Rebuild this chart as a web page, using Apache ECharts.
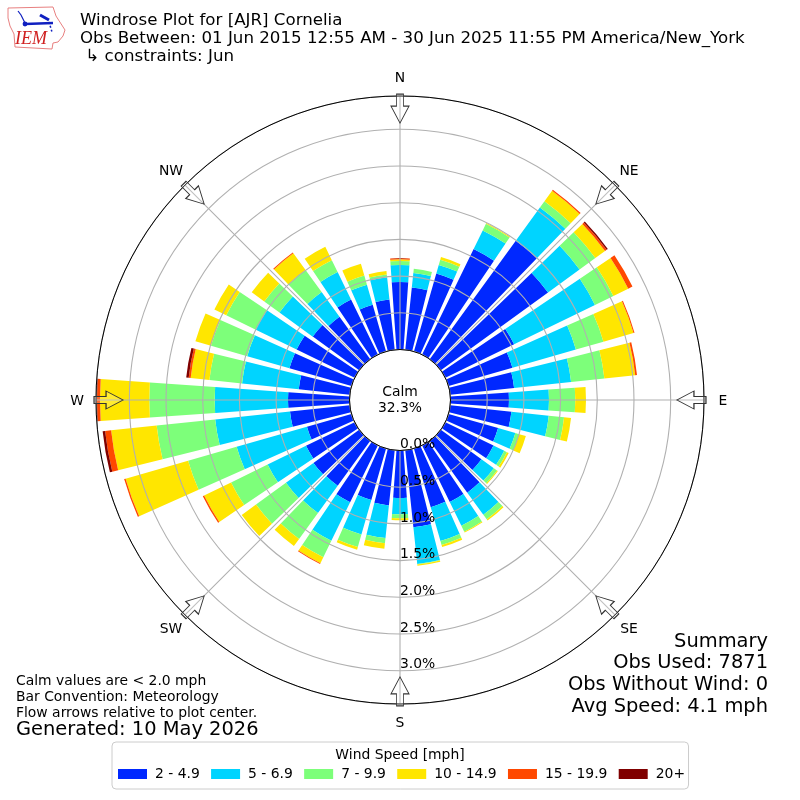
<!DOCTYPE html>
<html>
<head>
<meta charset="utf-8">
<style>html,body{margin:0;padding:0;background:#fff}#c{width:800px;height:800px}</style>
<script src="https://cdn.jsdelivr.net/npm/echarts@6/dist/echarts.min.js"></script>
</head>
<body>
<div id="c"></div>
<script>
const directions = ['0','10','20','30','40','50','60','70','80','90','100','110','120','130','140','150','160','170','180','190','200','210','220','230','240','250','260','270','280','290','300','310','320','330','340','350'];
const speed2to5 = [0.920,0.852,1.106,1.601,1.996,1.805,1.042,0.906,0.875,0.797,0.838,0.702,0.729,0.684,0.872,0.858,0.831,1.056,0.647,0.756,0.729,0.862,0.756,0.770,0.737,0.631,0.819,0.838,0.699,0.879,0.879,0.781,0.715,0.834,0.661,0.688];
const speed5to7 = [0.232,0.200,0.121,0.282,0.559,0.531,1.226,0.899,0.781,0.545,0.512,0.245,0.163,0.208,0.371,0.361,0.481,0.504,0.222,0.447,0.490,0.584,0.458,0.463,0.582,0.997,1.025,0.999,0.777,0.598,0.619,0.561,0.414,0.417,0.286,0.304];
const speed7to10 = [0.054,0.059,0.074,0.099,0.106,0.266,0.279,0.391,0.456,0.358,0.210,0.054,0.041,0.054,0.079,0.089,0.054,0.004,0.054,0.071,0.177,0.249,0.437,0.504,0.554,0.688,0.802,0.891,0.447,0.514,0.448,0.256,0.372,0.180,0.129,0.041];
const speed10to15 = [0.023,0,0.037,0.014,0.176,0.163,0.225,0.426,0.422,0.146,0.095,0.095,0.027,0.014,0.020,0.014,0.030,0.018,0.027,0.076,0.037,0.090,0.120,0.241,0.409,0.886,0.624,0.672,0.257,0.221,0.180,0.211,0.283,0.203,0.168,0.046];
const speed15to20 = [0.014,0,0,0,0.018,0.027,0.064,0.014,0.025,0,0,0,0,0,0,0,0,0,0,0,0,0.012,0,0,0.019,0.020,0.082,0.041,0.027,0,0,0,0.014,0,0,0];
const speed20plus = [0,0,0,0,0,0.020,0,0,0,0,0,0,0,0,0,0,0,0,0,0,0,0,0,0,0,0,0.034,0.007,0.034,0,0,0,0,0,0,0];
const speedNames = ['2 - 4.9','5 - 6.9','7 - 9.9','10 - 14.9','15 - 19.9','20+'];
const speedColors = ['#0028ff','#00d4ff','#7dff7a','#ffe600','#ff4800','#800000'];
const speedData = [speed2to5,speed5to7,speed7to10,speed10to15,speed15to20,speed20plus];
const compassNames = ['N','NE','E','SE','S','SW','W','NW'];
const compassX = [400,629,723,629,400,171,77,171];
const compassY = [77,170,400,628,722,628,400,170];
const arrowAngles = [0,45,90,135,180,225,270,315];
const arrowRadius = 3.283;
const radiusMax = 3.454;

const titleLines = ['Windrose Plot for [AJR] Cornelia','Obs Between: 01 Jun 2015 12:55 AM - 30 Jun 2025 11:55 PM America/New_York',' \u21b3 constraints: Jun'];
const noteLines = ['Calm values are < 2.0 mph','Bar Convention: Meteorology','Flow arrows relative to plot center.'];
const generatedText = 'Generated: 10 May 2026';
const summaryLines = ['Summary','Obs Used: 7871','Obs Without Wind: 0','Avg Speed: 4.1 mph'];

const FONT = '"DejaVu Sans"';
const txt = (x,y,text,size,extra) => ({type:'text',x,y,z:50,silent:true,style:Object.assign({text,fontFamily:FONT,fontSize:size,fill:'#000',textVerticalAlign:'middle'},extra||{})});

const graphics = [];
titleLines.forEach((t,i)=>graphics.push(txt(80,21+i*17.6,t,16.67)));
noteLines.forEach((t,i)=>graphics.push(txt(16,681+i*16,t,13.9)));
graphics.push(txt(16,730,generatedText,19.44));
[642,663,685,707].forEach((y,i)=>graphics.push(txt(768,y,summaryLines[i],19.44,{textAlign:'right'})));
graphics.push(txt(400,392,'Calm',13.9,{textAlign:'center'}));
graphics.push(txt(400,408,'32.3%',13.9,{textAlign:'center'}));
graphics.push(txt(400,755,'Wind Speed [mph]',13.9,{textAlign:'center'}));
compassNames.forEach((t,i)=>graphics.push(txt(compassX[i],compassY[i]+1,t,13.9,{textAlign:'center'})));
// IEM logo
const logoOutline = [[8,8],[53,7],[56,16],[65,30],[63,36],[58,42],[53,43],[52,49],[15,47],[14,34],[10,26],[8,18]];
graphics.push({type:'polygon',z:50,silent:true,shape:{points:logoOutline},style:{fill:'none',stroke:'#e88080',lineWidth:1}});
graphics.push({type:'polyline',z:50,silent:true,shape:{points:[[25,24],[53,23]]},style:{stroke:'#1020c0',lineWidth:2.4,fill:'none'}});
graphics.push({type:'polyline',z:50,silent:true,shape:{points:[[18,11],[21,15],[25,23]]},style:{stroke:'#1020c0',lineWidth:1.2,fill:'none'}});
graphics.push({type:'polyline',z:50,silent:true,shape:{points:[[40,15],[49,20]]},style:{stroke:'#1020c0',lineWidth:3,fill:'none'}});
graphics.push({type:'polyline',z:50,silent:true,shape:{points:[[49,22],[52,32]]},style:{stroke:'#1020c0',lineWidth:1.5,lineDash:[2,2],fill:'none'}});
graphics.push({type:'circle',z:50,silent:true,shape:{cx:25,cy:24,r:2.4},style:{fill:'#1020c0'}});
graphics.push({type:'text',x:15,y:39,z:50,silent:true,style:{text:'IEM',fontFamily:'"Liberation Serif"',fontStyle:'italic',fontSize:18,fill:'#d02020',textVerticalAlign:'middle'}});

const series = speedNames.map((name,i)=>({
  name,type:'bar',coordinateSystem:'polar',polarIndex:0,stack:'wind',barWidth:'80%',
  data:speedData[i],itemStyle:{color:speedColors[i]},silent:true,z:2
}));
series.push({
  type:'scatter',coordinateSystem:'polar',polarIndex:1,silent:true,z:20,
  symbol:'path://M-3.5,-14.5 L3.5,-14.5 L3.5,-2.5 L9,-2.5 L0,14.5 L-9,-2.5 L-3.5,-2.5 Z',
  symbolSize:[18,29],
  data:arrowAngles.map(a=>({value:[arrowRadius,a],symbolRotate:-(a+180)})),
  itemStyle:{color:'rgba(255,255,255,0.2)',borderColor:'#333',borderWidth:1,opacity:1}
});

const chart = echarts.init(document.getElementById('c'),null,{renderer:'canvas'});
chart.setOption({
  animation:false,
  backgroundColor:'#fff',
  textStyle:{fontFamily:FONT},
  polar:[
    {center:[400,400],radius:[50.5,304]},
    {center:[400,400],radius:[50.5,304]}
  ],
  angleAxis:[
    {polarIndex:0,type:'category',data:directions,startAngle:95,boundaryGap:true,show:false},
    {polarIndex:1,type:'value',min:0,max:360,interval:45,startAngle:-90,z:10,
      axisLine:{show:true,lineStyle:{color:'#000',width:1}},
      axisTick:{show:false},
      axisLabel:{show:false},
      splitLine:{show:true,lineStyle:{color:'#b0b0b0',width:1.1,type:'solid'}}}
  ],
  radiusAxis:[
    {polarIndex:0,type:'value',min:0,max:radiusMax,show:false},
    {polarIndex:1,type:'value',min:0,max:radiusMax,interval:0.5,z:10,
      axisLine:{show:false},axisTick:{show:false},
      axisLabel:{show:true,showMaxLabel:false,margin:0,align:'left',verticalAlign:'bottom',lineHeight:12,fontFamily:FONT,fontSize:13.9,color:'#000',formatter:v=>v.toFixed(1)+'%'},
      splitLine:{show:true,lineStyle:{color:'#b0b0b0',width:1.1,type:'solid'}}}
  ],
  legend:{
    data:speedNames,icon:'rect',left:112,top:742,orient:'horizontal',itemWidth:29,itemHeight:10,itemGap:11.3,
    padding:[25,3.5,8,6],borderColor:'#ccc',borderWidth:1,borderRadius:4,selectedMode:false,
    textStyle:{fontFamily:FONT,fontSize:13.9,color:'#000',padding:[0,0,0,3]}
  },
  series,
  graphic:graphics
});
</script>
</body>
</html>
